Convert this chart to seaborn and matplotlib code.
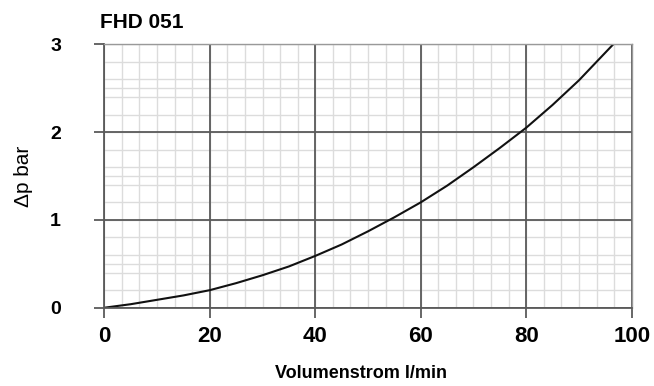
import numpy as np
import pandas as pd
import seaborn as sns
import matplotlib.pyplot as plt
from matplotlib.ticker import MultipleLocator

# Kennlinie FHD 051
volumenstrom = [0, 5, 10, 15, 20, 25, 30, 35, 40, 45, 50, 55, 60, 65, 70, 75, 80, 85, 90, 96.5]
delta_p = [0, 0.04, 0.09, 0.14, 0.2, 0.28, 0.37, 0.47, 0.59, 0.72, 0.87, 1.03, 1.2,
           1.39, 1.6, 1.82, 2.05, 2.31, 2.59, 3.0]
x_ticks = [0, 20, 40, 60, 80, 100]
y_ticks = [0, 1, 2, 3]

df = pd.DataFrame({"Volumenstrom": volumenstrom, "dp": delta_p})

sns.set_style("white")
plt.rcParams["font.family"] = ["Liberation Sans", "DejaVu Sans"]
plt.rcParams["text.color"] = "black"
plt.rcParams["axes.labelcolor"] = "black"
plt.rcParams["xtick.labelcolor"] = "black"
plt.rcParams["ytick.labelcolor"] = "black"

fig = plt.figure(figsize=(6.54, 3.86), dpi=100)
pos = [0.1595, 0.2028, 0.8064, 0.6824]

# feines Raster auf eigener Achse darunter, damit es das grobe Raster nicht überdeckt
ax_bg = fig.add_axes(pos)
ax_bg.set_xlim(0, 100)
ax_bg.set_ylim(0, 3)
ax_bg.xaxis.set_minor_locator(MultipleLocator(20 / 6))
ax_bg.yaxis.set_minor_locator(MultipleLocator(0.2))
ax_bg.grid(which="minor", color="#dcdcdc", linewidth=1.0)
ax_bg.grid(which="major", color="#dcdcdc", linewidth=1.0)
ax_bg.tick_params(which="both", length=0, labelbottom=False, labelleft=False)
for s in ax_bg.spines.values():
    s.set_visible(False)

ax = fig.add_axes(pos)
ax.patch.set_alpha(0)
ax.grid(which="major", color="#5a5a5a", linewidth=1.3)
ax.set_axisbelow(True)

sns.lineplot(data=df, x="Volumenstrom", y="dp", color="#111111", linewidth=1.5, ax=ax)

ax.set_xlim(0, 100)
ax.set_ylim(0, 3)
ax.set_xticks(x_ticks)
ax.set_yticks(y_ticks)
ax.set_xticklabels([str(t) for t in x_ticks], fontsize=16, fontweight="bold", color="black")
ax.set_yticklabels([str(t) for t in y_ticks], fontsize=14, fontweight="bold", color="black")
ax.tick_params(axis="both", which="major", direction="out", length=7.2, width=1.3,
               color="#5a5a5a", left=True, bottom=True)
ax.tick_params(axis="x", which="major", pad=6)
ax.tick_params(axis="y", which="major", pad=24)

for side in ["top", "right"]:
    ax.spines[side].set_color("#999999")
    ax.spines[side].set_linewidth(1.0)
for side in ["left", "bottom"]:
    ax.spines[side].set_color("#5a5a5a")
    ax.spines[side].set_linewidth(1.3)

ax.set_xlabel("Volumenstrom l/min", fontsize=13, fontweight="bold", va="center", color="black")
ax.xaxis.set_label_coords(0.486, -0.248)
ax.set_ylabel("Δp bar", fontsize=15, va="center", color="black")
ax.yaxis.set_label_coords(-0.154, 0.5)

fig.text(100 / 654, 1 - 28.3 / 386, "FHD 051", fontsize=15, fontweight="bold",
         ha="left", va="baseline", color="black")

fig.savefig("out.png", dpi=100)
